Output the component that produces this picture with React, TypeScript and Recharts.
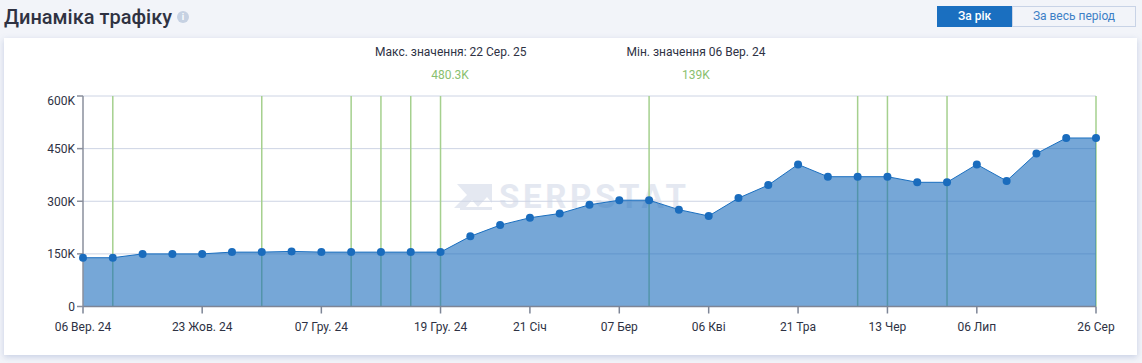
import React from "react";
import { AreaChart, Area, XAxis, YAxis, CartesianGrid, ReferenceLine } from "recharts";

const dates = [
  "06 Вер. 24", "18 Вер. 24", "30 Вер. 24", "11 Жов. 24", "23 Жов. 24", "04 Лис. 24", "15 Лис. 24",
  "26 Лис. 24", "07 Гру. 24", "10 Гру. 24", "13 Гру. 24", "16 Гру. 24", "19 Гру. 24", "30 Гру. 24",
  "10 Січ", "21 Січ", "05 Лют", "20 Лют", "07 Бер", "17 Бер", "27 Бер", "06 Кві", "21 Кві", "06 Тра",
  "21 Тра", "28 Тра", "05 Чер", "13 Чер", "20 Чер", "28 Чер", "06 Лип", "20 Лип", "05 Сер", "22 Сер", "26 Сер",
];
const traffic = [
  139000, 139000, 150000, 150000, 150000, 155000, 155000, 157000, 155000, 155000, 155000, 155000, 155000,
  200000, 232000, 253000, 265000, 290000, 303000, 303000, 276000, 258000, 309000, 346000, 405000, 370000,
  370000, 370000, 354000, 354000, 405000, 358000, 436000, 480300, 480300,
];
const xTicks = ["06 Вер. 24", "23 Жов. 24", "07 Гру. 24", "19 Гру. 24", "21 Січ", "07 Бер", "06 Кві", "21 Тра", "13 Чер", "06 Лип", "26 Сер"];
const yTicks = [0, 150000, 300000, 450000, 600000];
const markers = ["18 Вер. 24", "15 Лис. 24", "10 Гру. 24", "13 Гру. 24", "16 Гру. 24", "19 Гру. 24", "17 Бер", "05 Чер", "13 Чер", "28 Чер", "26 Сер"];

const rows = dates.map((date, i) => ({ date, traffic: traffic[i] }));
const FONT = "Roboto, sans-serif";
const fmt = (v: number) => (v === 0 ? "0" : `${v / 1000}K`);

const YTick = (p: any) => {
  const top = p.payload.value === 600000;
  return (
    <text x={p.x} y={p.y + (top ? 5 : 0.5)} dy={4} textAnchor="end" fontSize={12} fontFamily={FONT} fill="#2e3244">
      {fmt(p.payload.value)}
    </text>
  );
};

const abs = (s: React.CSSProperties): React.CSSProperties => ({ position: "absolute", whiteSpace: "nowrap", fontFamily: FONT, ...s });

export default function App() {
  return (
    <div style={abs({ left: 0, top: 0, width: 1142, height: 363, background: "#f2f4f9", overflow: "hidden" })}>
      <div style={abs({ left: 4, top: 4, fontSize: 20, lineHeight: "26px", fontWeight: 500, color: "#2f3242" })}>Динаміка трафіку</div>
      <div style={abs({ left: 177, top: 11, width: 12, height: 12, borderRadius: 6, background: "#c6d1e2", color: "#fff", fontSize: 9, fontWeight: 700, lineHeight: "12px", textAlign: "center" })}>i</div>
      <div style={abs({ left: 937, top: 6, width: 75, height: 21, background: "#1a6fc0", color: "#fff", fontSize: 12, fontWeight: 500, lineHeight: "21px", textAlign: "center" })}>За рік</div>
      <div style={abs({ left: 1012, top: 6, width: 122, height: 19, border: "1px solid #c8d3e6", color: "#3d7fc6", fontSize: 12, lineHeight: "19px", textAlign: "center" })}>За весь період</div>
      <div style={abs({ left: 4, top: 38, width: 1133, height: 317, background: "#fff", boxShadow: "0 2px 6px rgba(120,140,190,0.35)" })} />
      <div style={abs({ left: 375, top: 45, fontSize: 12, lineHeight: "14px", color: "#2e3244" })}>Макс. значення: 22 Сер. 25</div>
      <div style={abs({ left: 350, width: 200, textAlign: "center", top: 68, fontSize: 12, lineHeight: "14px", color: "#8abf6f" })}>480.3K</div>
      <div style={abs({ left: 626.5, top: 45, fontSize: 12, lineHeight: "14px", color: "#2e3244" })}>Мін. значення 06 Вер. 24</div>
      <div style={abs({ left: 596, width: 200, textAlign: "center", top: 68, fontSize: 12, lineHeight: "14px", color: "#8abf6f" })}>139K</div>
      <svg style={{ position: "absolute", left: 454, top: 183, width: 40, height: 28 }} viewBox="0 0 40 28">
        <path d="M3 1H38V20L33 14L24 24L18 17L11 25H0L13 12Z" fill="#e4e8f1" />
        <path d="M6 27H38V24H6Z" fill="#e4e8f1" />
      </svg>
      <div style={abs({ left: 499, top: 177, fontSize: 33, lineHeight: "40px", fontWeight: 700, letterSpacing: 3.7, color: "#e4e8f1" })}>SERPSTAT</div>
      <div style={{ position: "absolute", left: 0, top: 0 }}>
        <AreaChart width={1142} height={363} data={rows} margin={{ top: 96, right: 46, bottom: 26.5, left: 0 }}>
          <CartesianGrid vertical={false} stroke="#cdd4e4" strokeWidth={1} />
          {markers.map((m) => (
            <ReferenceLine key={m} x={m} stroke="#a5d08e" strokeWidth={1.5} zIndex={50} />
          ))}
          <XAxis
            dataKey="date"
            ticks={xTicks}
            interval={0}
            height={30}
            tickSize={7}
            tickMargin={9}
            stroke="#7d8596"
            strokeWidth={1.5}
            tick={{ fontSize: 12, fontFamily: FONT, fill: "#2e3244" }}
          />
          <YAxis
            width={83}
            domain={[0, 600000]}
            ticks={yTicks}
            tickSize={6}
            stroke="#8a8f9c"
            strokeWidth={1.5}
            tick={<YTick />}
          />
          <Area
            type="linear"
            dataKey="traffic"
            stroke="#1a6fc0"
            strokeWidth={1}
            fill="#1a6cbd"
            fillOpacity={0.6}
            dot={{ r: 4, fill: "#1a6cbd", stroke: "#1a6cbd", strokeWidth: 0, fillOpacity: 1 }}
            activeDot={false}
            isAnimationActive={false}
          />
        </AreaChart>
      </div>
    </div>
  );
}
